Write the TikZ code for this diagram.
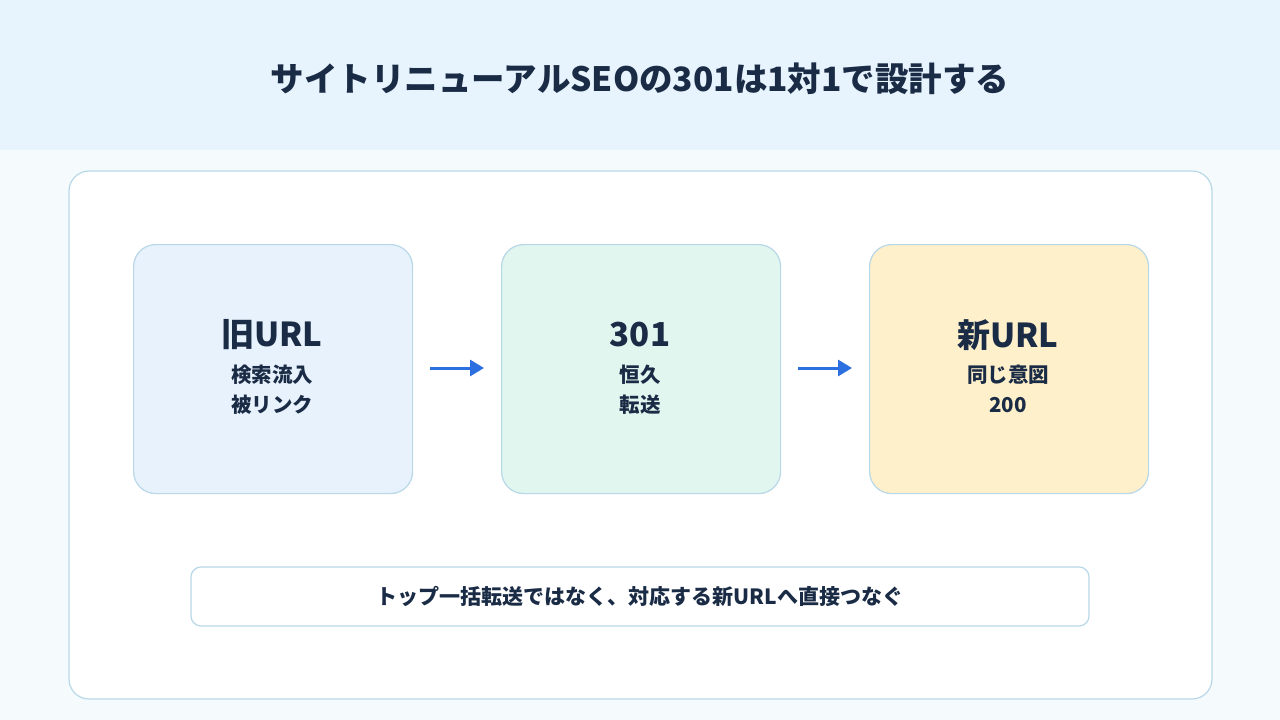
\documentclass[tikz,border=0pt]{standalone}
\usepackage{fontspec}
\setmainfont{Noto Sans CJK JP}
\definecolor{hdr}{HTML}{E8F4FD}
\definecolor{bg}{HTML}{F5FAFD}
\definecolor{bd}{HTML}{B8D8E8}
\definecolor{ink}{HTML}{1A2B45}
\definecolor{c1}{HTML}{E8F2FD}
\definecolor{c2}{HTML}{E0F6EF}
\definecolor{c3}{HTML}{FFF0CC}
\definecolor{arr}{HTML}{2B6FE0}
\usetikzlibrary{arrows.meta}
\begin{document}
\begin{tikzpicture}[x=1pt,y=-1pt,
  box/.style={draw=bd,line width=1.2pt,rounded corners=22pt,minimum width=279pt,minimum height=249pt,anchor=north west},
  ttl/.style={font=\bfseries\fontsize{33}{36}\selectfont,text=ink},
  sub/.style={font=\bfseries\fontsize{20.5}{24}\selectfont,text=ink},
  ar/.style={arr,line width=3pt,-{Triangle[length=14pt,width=16pt]}}]
\useasboundingbox (0,0) rectangle (1280,720);
\fill[bg] (0,0) rectangle (1280,720);
\fill[hdr] (0,0) rectangle (1280,150);
\node[font=\bfseries\fontsize{33.5}{36}\selectfont,text=ink] (title) at (640,79) {サイトリニューアルSEOの301は1対1で設計する};
\draw[bd,fill=white,line width=1.2pt,rounded corners=20pt] (69,171) rectangle (1212,699);
\node[box,fill=c1] (b1) at (133,244) {};
\node[box,fill=c2] (b2) at (501,244) {};
\node[box,fill=c3] (b3) at (869,244) {};
\node[ttl] (t1) at (272,335) {旧URL};
\node[sub] (s1a) at (272,375) {検索流入};
\node[sub] (s1b) at (272,405) {被リンク};
\node[ttl] (t2) at (640,335) {301};
\node[sub] (s2a) at (640,375) {恒久};
\node[sub] (s2b) at (640,405) {転送};
\node[ttl] (t3) at (1008,335) {新URL};
\node[sub] (s3a) at (1008,375) {同じ意図};
\node[sub] (s3b) at (1008,405) {200};
\coordinate (a1s) at (430,368); \coordinate (a1e) at (484,368);
\coordinate (a2s) at (798,368); \coordinate (a2e) at (852,368);
\draw[ar] (a1s) -- (a1e);
\draw[ar] (a2s) -- (a2e);
\draw[bd,fill=white,line width=1.2pt,rounded corners=10pt] (191,567) rectangle (1089,626);
\node[font=\bfseries\fontsize{21}{24}\selectfont,text=ink] (note) at (640,596) {トップ一括転送ではなく、対応する新URLへ直接つなぐ};
\end{tikzpicture}
\end{document}
